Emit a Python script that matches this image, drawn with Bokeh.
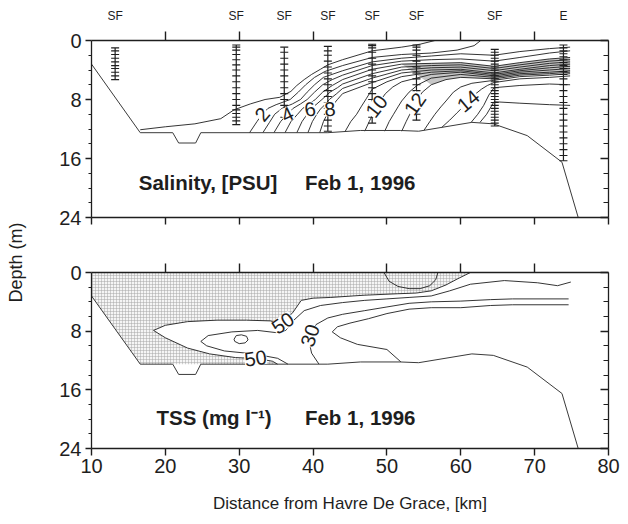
import math
from bokeh.plotting import figure
from bokeh.layouts import row, column
from bokeh.models import Range1d, LinearAxis, FixedTicker, ColumnDataSource, LabelSet, Label
from bokeh.core.properties import value
from bokeh.embed import file_html
from bokeh.resources import INLINE

FONT = "Liberation Sans"
INK = "#1e1e1e"

# ---------------- axes ----------------
km_ticks = [10, 20, 30, 40, 50, 60, 70, 80]
km_top_ticks = [20, 30, 40, 50, 60, 70]
depth_ticks = [0, 8, 16, 24]
depth_minor = [2, 4, 6, 10, 12, 14, 18, 20, 22]

# ---------------- stations ----------------
station_km = [13.2, 29.6, 36.1, 42.0, 48.0, 54.0, 64.6, 73.9]
station_kind = ["SF", "SF", "SF", "SF", "SF", "SF", "SF", "E"]
station_samples = [
    [1.0, 1.4, 1.9, 2.4, 2.9, 3.4, 3.8, 4.3, 4.8, 5.3],
    [0.6, 0.9, 1.3, 1.9, 2.6, 3.3, 4.0, 4.8, 5.6, 6.4, 7.2, 8.0, 8.8, 9.4, 9.9, 10.4, 10.9, 11.4],
    [0.9, 1.6, 2.4, 3.2, 4.0, 4.8, 5.6, 6.4, 7.2, 8.0, 8.8, 9.6, 10.4],
    [0.8, 1.4, 2.0, 2.8, 3.6, 4.4, 5.2, 6.0, 6.8, 7.6, 8.4, 9.2, 10.0, 10.8, 11.6, 12.3],
    [0.5, 0.7, 1.0, 1.6, 2.4, 3.2, 4.0, 4.8, 5.6, 6.4, 7.2, 8.0, 8.8, 9.6, 10.4, 11.2],
    [0.6, 0.9, 1.3, 2.0, 2.8, 3.6, 4.4, 5.2, 6.0, 6.8, 7.6, 8.4, 9.2, 10.0, 10.8],
    [1.2, 1.6, 2.0, 2.4, 2.8, 3.2, 3.6, 4.0, 4.4, 4.8, 5.2, 5.6, 6.0, 6.4, 6.8, 7.2,
     7.6, 8.0, 8.4, 8.8, 9.2, 9.6, 10.0, 10.4, 10.8, 11.2, 11.6],
    [0.6, 1.0, 1.4, 1.8, 2.2, 2.6, 3.0, 3.4, 3.8, 4.2, 4.6, 5.2, 6.0, 6.8, 7.6, 8.4,
     9.2, 10.0, 10.8, 11.6, 12.4, 13.2, 14.0, 14.8, 15.6, 16.3],
]

# ---------------- channel bed ----------------
bed_km = [10.0, 16.6, 21.0, 21.8, 24.1, 24.8, 42.0, 46.4, 51.8, 54.3, 61.5, 64.4, 69.0, 73.7, 75.9]
bed_depth = [3.2, 12.5, 12.5, 13.9, 13.9, 12.5, 12.5, 12.2, 12.2, 12.3, 11.1, 11.3, 12.9, 16.5, 24.0]

# ---------------- salinity isohalines (PSU 1..16) ----------------
sal_km = [
    [16.6, 20, 24, 27.5, 29.3, 31.5, 33.5, 35.5, 37.0, 37.8, 38.8, 39.8, 41, 42, 44, 48, 52, 54.5, 56.5],
    [31.4, 32.4, 33.1, 33.9, 35.0, 36.9, 38.0, 39.0, 40.2, 41.6, 44, 48, 52, 56, 59.5, 61.8, 62.7],
    [33.2, 34.1, 34.8, 35.8, 37.2, 38.3, 39.2, 40.2, 41.4, 44, 48, 52, 56, 60, 64.5, 68, 72, 74.8],
    [34.7, 35.6, 36.5, 37.3, 38.3, 39.2, 40.2, 41.3, 42.6, 44, 48, 52, 56, 60, 64.5, 68, 72, 74.8],
    [36.2, 37.0, 37.9, 38.6, 39.5, 40.3, 41.3, 42.6, 44, 48, 52, 56, 60, 64.5, 68, 72, 74.8],
    [37.8, 38.5, 39.2, 39.6, 40.4, 41.2, 42.3, 43.3, 44, 48, 52, 56, 60, 64.5, 68, 72, 74.8],
    [39.3, 39.9, 40.5, 41.0, 41.6, 42.2, 43.2, 44, 48, 52, 56, 60, 64.5, 68, 72, 74.8],
    [40.9, 41.4, 41.9, 42.3, 42.8, 43.3, 44, 48, 52, 56, 60, 64.5, 68, 72, 74.8],
    [44.3, 45.1, 45.9, 46.5, 47.2, 48, 50, 52, 56, 60, 64.5, 68, 72, 74.8],
    [47.0, 47.6, 48.1, 48.5, 49.0, 49.8, 50.8, 52, 56, 60, 64.5, 68, 72, 74.8],
    [49.7, 50.3, 50.9, 51.5, 52.0, 53.0, 54.2, 56, 60, 64.5, 68, 72, 74.8],
    [52.0, 52.6, 53.1, 53.6, 54.1, 54.8, 56, 58, 60, 64.5, 68, 72, 74.8],
    [55.0, 55.8, 56.5, 57.3, 58.0, 59.0, 60.0, 61.5, 64.5, 68, 72, 74.8],
    [57.4, 58.5, 59.5, 60.3, 61.0, 61.8, 62.8, 63.6, 64.5, 68, 72, 74.8],
    [61.4, 62.3, 63.1, 63.8, 64.5, 68, 72, 74.8],
    [62.6, 63.5, 64.5, 68, 72, 74.8],
]
sal_depth = [
    [12.1, 11.7, 11.3, 10.6, 9.4, 8.6, 8.0, 7.7, 6.9, 6.1, 5.3, 4.6, 3.9, 3.3, 2.6, 1.4, 0.9, 0.5, 0.0],
    [12.5, 11.0, 10.0, 9.2, 8.7, 8.0, 7.0, 6.0, 5.0, 4.2, 3.4, 2.3, 1.9, 1.7, 1.3, 0.7, 0.0],
    [12.5, 11.1, 10.0, 9.2, 8.6, 8.0, 7.0, 6.0, 5.0, 4.1, 2.9, 2.4, 2.1, 1.8, 2.0, 1.5, 1.1, 0.9],
    [12.5, 11.0, 10.0, 9.2, 8.6, 8.0, 7.0, 6.0, 5.3, 4.7, 3.4, 2.8, 2.6, 2.5, 2.8, 2.3, 1.7, 1.4],
    [12.5, 11.0, 10.0, 9.2, 8.6, 8.0, 7.0, 6.1, 5.3, 3.9, 3.2, 3.1, 3.0, 3.5, 3.0, 2.5, 2.3],
    [12.5, 11.0, 10.0, 9.3, 8.7, 8.0, 7.0, 6.4, 5.9, 4.5, 3.6, 3.4, 3.3, 3.8, 3.3, 2.8, 2.6],
    [12.5, 11.0, 10.0, 9.3, 8.7, 8.0, 7.2, 6.5, 5.1, 4.0, 3.7, 3.6, 4.1, 3.6, 3.1, 2.9],
    [12.5, 11.0, 10.0, 9.3, 8.6, 8.0, 7.2, 5.7, 4.4, 4.0, 3.9, 4.4, 3.9, 3.4, 3.2],
    [12.4, 11.0, 10.0, 9.0, 7.9, 6.6, 5.6, 4.9, 4.3, 4.1, 4.6, 4.1, 3.7, 3.5],
    [12.3, 11.0, 10.0, 9.2, 8.3, 7.2, 6.3, 5.6, 4.6, 4.3, 4.8, 4.3, 4.0, 3.8],
    [12.3, 11.0, 10.0, 9.0, 8.2, 7.0, 6.0, 5.1, 4.6, 5.0, 4.5, 4.3, 4.1],
    [12.3, 11.0, 10.0, 9.0, 8.0, 7.0, 6.0, 5.3, 5.0, 5.2, 4.7, 4.5, 4.3],
    [12.2, 11.0, 10.0, 9.0, 8.2, 7.0, 6.3, 5.8, 5.4, 4.9, 4.7, 4.5],
    [11.8, 10.8, 9.8, 9.0, 8.2, 7.4, 6.6, 6.1, 5.7, 5.2, 5.0, 4.8],
    [11.1, 10.0, 8.8, 7.4, 6.4, 6.1, 5.9, 6.0],
    [11.1, 10.0, 8.3, 8.5, 8.7, 8.8],
]
sal_label_text = ["2", "4", "6", "8", "10", "12", "14"]
sal_label_km = [33.1, 36.5, 39.6, 42.3, 48.6, 53.8, 61.0]
sal_label_depth = [10.0, 10.0, 9.3, 9.3, 8.9, 8.6, 8.2]
sal_label_angle = [50, 25, 10, 5, 52, 55, 40]

# ---------------- suspended solids (mg/l) ----------------
# 50 mg/l isoline: bottom -> tongue tip -> surface; everything above/left of it is > 50
tss50_km = [35.2, 34.5, 32.5, 29.5, 26.0, 23.0, 20.0, 18.4, 20.0, 23.0, 27.0, 31.0, 34.2, 35.8,
            37.3, 38.4, 40.0, 42.4, 46.9, 51.4, 54.0, 56.0, 58.0, 59.5, 61.3]
tss50_depth = [12.5, 12.1, 11.75, 11.6, 11.1, 10.3, 8.9, 7.9, 7.2, 6.7, 6.5, 6.5, 6.6, 7.0,
               5.4, 3.8, 3.5, 3.4, 3.1, 2.9, 2.8, 2.5, 1.7, 0.9, 0.0]
tss_km = [
    [36.6, 35.2, 32.0, 28.0, 25.6, 24.8, 25.8, 29.0, 32.5, 35.0, 36.3, 37.4, 38.8, 41.0, 44.0, 47.0,
     50.0, 53.0, 56.0, 58.5, 61.3, 65.9, 70.4, 73.1, 74.9],
    [40.8, 39.8, 39.5, 39.7, 40.4, 42.0, 44.0, 47.0, 50.0, 53.0, 56.0, 60.0, 64.0, 67.0, 74.6],
    [51.9, 50.0, 46.0, 43.7, 42.6, 43.3, 45.0, 47.5, 50.0, 53.0, 56.0, 60.0, 64.0, 67.0, 74.6],
    [49.6, 50.3, 51.5, 53.0, 54.5, 55.8, 56.6, 56.9],
    [29.3, 29.6, 30.3, 31.0, 31.2, 30.8, 30.0, 29.4, 29.3],
]
tss_depth = [
    [12.5, 11.7, 11.1, 10.7, 10.0, 9.4, 8.6, 8.1, 7.9, 8.2, 7.9, 6.5, 5.2, 4.5, 4.1, 3.8,
     3.6, 3.4, 3.2, 2.5, 1.6, 1.1, 1.4, 1.8, 1.3],
    [12.5, 11.0, 9.6, 8.6, 7.1, 6.2, 5.7, 5.2, 4.7, 4.2, 4.0, 3.9, 3.7, 3.6, 3.6],
    [12.2, 10.5, 9.8, 8.9, 8.1, 7.4, 6.9, 6.3, 5.6, 5.0, 4.8, 4.8, 4.5, 4.4, 4.4],
    [0.0, 1.2, 1.9, 2.2, 2.2, 1.8, 1.0, 0.0],
    [9.1, 8.6, 8.5, 8.7, 9.2, 9.6, 9.7, 9.4, 9.1],
]
tss_label_text = ["50", "50", "30"]
tss_label_km = [35.9, 32.2, 39.6]
tss_label_depth = [6.9, 11.7, 8.6]
tss_label_angle = [35, 8, 72]


def axis_style(ax):
    ax.axis_line_color = INK
    ax.axis_line_width = 1.3
    ax.major_tick_line_color = INK
    ax.major_tick_line_width = 1.4
    ax.minor_tick_line_color = INK
    ax.minor_tick_line_width = 1.1
    ax.major_label_text_font = FONT
    ax.major_label_text_color = INK


def unlabelled(ax):
    ax.major_label_text_color = None
    ax.major_label_text_font_size = "1px"
    ax.major_label_standoff = 0


def panel(height, border_top, border_bottom, with_labels):
    p = figure(width=598, height=height, x_range=Range1d(10, 80), y_range=Range1d(24, 0),
               output_backend="svg", toolbar_location=None,
               x_axis_location=None, y_axis_location=None,
               min_border_left=61, min_border_right=20,
               min_border_top=border_top, min_border_bottom=border_bottom)
    p.outline_line_color = None
    p.grid.visible = False

    left = LinearAxis(ticker=FixedTicker(ticks=depth_ticks, minor_ticks=depth_minor),
                      major_tick_out=6, major_tick_in=0, minor_tick_out=3, minor_tick_in=0,
                      major_label_standoff=4)
    right = LinearAxis(ticker=FixedTicker(ticks=depth_ticks, minor_ticks=depth_minor),
                       major_tick_out=0, major_tick_in=8, minor_tick_out=0, minor_tick_in=5)
    top = LinearAxis(ticker=FixedTicker(ticks=km_top_ticks), major_tick_out=9, major_tick_in=0)
    bottom = LinearAxis(ticker=FixedTicker(ticks=km_ticks), major_tick_out=7, major_tick_in=0)
    for ax in (left, right, top, bottom):
        axis_style(ax)
    left.major_label_text_font_size = "20px"
    unlabelled(right)
    unlabelled(top)
    if with_labels:
        bottom.major_label_text_font_size = "20px"
        bottom.major_label_standoff = 3
        bottom.axis_label = "Distance from Havre De Grace, [km]"
        bottom.axis_label_text_font = FONT
        bottom.axis_label_text_font_size = "17px"
        bottom.axis_label_text_font_style = "normal"
        bottom.axis_label_text_color = INK
        bottom.axis_label_standoff = 18
    else:
        unlabelled(bottom)
    p.add_layout(left, "left")
    p.add_layout(right, "right")
    p.add_layout(top, "above")
    p.add_layout(bottom, "below")
    return p


def draw_bed(p):
    p.line(bed_km, bed_depth, line_color="#3a3a3a", line_width=1.0)


def contour_labels(p, texts, xs, ys, angles):
    src = ColumnDataSource(dict(x=xs, y=ys, text=texts, angle=angles))
    p.add_layout(LabelSet(x="x", y="y", text="text", angle="angle", angle_units="deg", source=src,
                          text_font=value(FONT), text_font_size=value("20px"), text_color=INK,
                          text_align="center", text_baseline="middle",
                          background_fill_color="white"))


def caption(p, x_left, depth, name):
    p.add_layout(Label(x=x_left, y=depth, text=name, text_font=FONT, text_font_size="20.5px",
                       text_font_style="bold", text_color=INK, text_baseline="middle"))
    p.add_layout(Label(x=38.9, y=depth, text="Feb 1, 1996", text_font=FONT, text_font_size="20.5px",
                       text_font_style="bold", text_color=INK, text_baseline="middle"))


# ---------------- salinity panel ----------------
top_p = panel(246, 40, 29, False)

# station names ride on an outer top axis
names = LinearAxis(ticker=FixedTicker(ticks=station_km),
                   major_label_overrides={k: n for k, n in zip(station_km, station_kind)},
                   major_tick_out=0, major_tick_in=0, axis_line_color=None,
                   major_label_text_font=FONT, major_label_text_font_size="12px",
                   major_label_text_color=INK, major_label_standoff=9)
top_p.add_layout(names, "above")

# shading of the tightly packed halocline
upper = [(x, d) for x, d in zip(sal_km[4], sal_depth[4]) if x >= 52]
lower = [(x, d) for x, d in zip(sal_km[11], sal_depth[11]) if x >= 56]
band = upper + lower[::-1]
top_p.patch([b[0] for b in band], [b[1] for b in band], fill_color="#bcbcbc", fill_alpha=0.85,
            line_color=None)

top_p.multi_line(sal_km, sal_depth, line_color=INK, line_width=0.9)
draw_bed(top_p)

# station casts
cast_x0, cast_top, cast_bot, dash_x, dash_y = [], [], [], [], []
for km, samples in zip(station_km, station_samples):
    cast_x0.append(km)
    cast_top.append(min(samples))
    cast_bot.append(max(samples))
    dash_x.extend([km] * len(samples))
    dash_y.extend(samples)
top_p.segment(x0=cast_x0, y0=cast_top, x1=cast_x0, y1=cast_bot, line_color=INK, line_width=1.2)
top_p.scatter(dash_x, dash_y, marker="dash", size=8, line_color=INK, line_width=1.1)

contour_labels(top_p, sal_label_text, sal_label_km, sal_label_depth, sal_label_angle)
caption(top_p, 16.4, 19.2, "Salinity, [PSU]")

# ---------------- suspended solids panel ----------------
bot_p = panel(278, 26, 76, True)

floor = 12.5
edge = [(x, min(d, floor)) for x, d in zip(bed_km, bed_depth) if x < tss50_km[0]]
shade = [(10.0, 0.0)] + list(zip(tss50_km, tss50_depth))[::-1] + edge[::-1]
bot_p.patch([s[0] for s in shade], [s[1] for s in shade], fill_color="#f5f5f5",
            hatch_pattern="+", hatch_scale=3.0, hatch_color="#a6a6a6", hatch_weight=0.5,
            line_color=None)

bot_p.line(tss50_km, tss50_depth, line_color=INK, line_width=0.9)
bot_p.multi_line(tss_km, tss_depth, line_color=INK, line_width=0.9)
draw_bed(bot_p)
contour_labels(bot_p, tss_label_text, tss_label_km, tss_label_depth, tss_label_angle)
caption(bot_p, 18.8, 19.8, "TSS (mg l\u207b\u00b9)")

# ---------------- shared depth title ----------------
title_p = figure(width=30, height=524, x_range=Range1d(0, 30), y_range=Range1d(0, 524),
                 output_backend="svg", toolbar_location=None, min_border=0,
                 x_axis_location=None, y_axis_location=None)
title_p.outline_line_color = None
title_p.grid.visible = False
title_p.add_layout(Label(x=15, y=262, text="Depth (m)", angle=math.pi / 2, text_align="center",
                         text_baseline="middle", text_font=FONT, text_font_size="18px",
                         text_color=INK))

layout = row(title_p, column(top_p, bot_p))
open("out.html", "w").write(file_html(layout, INLINE))
